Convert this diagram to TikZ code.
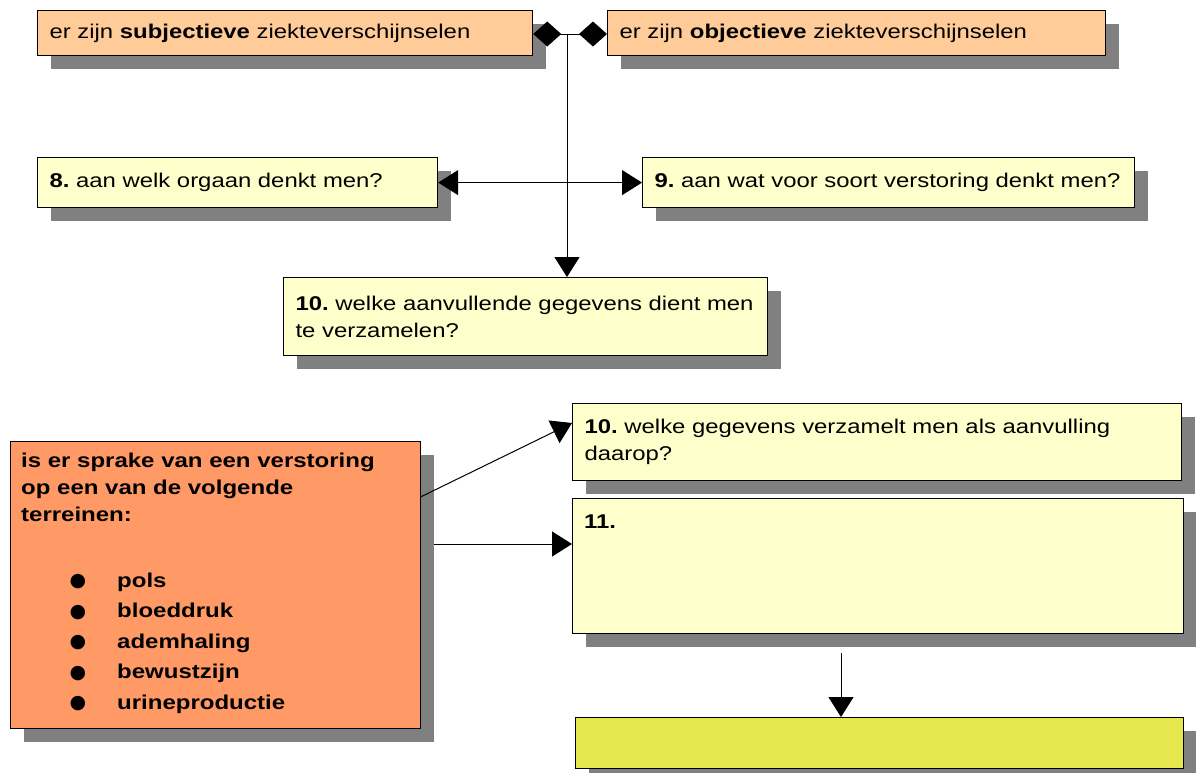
\documentclass[tikz,border=0pt]{standalone}
\usepackage{fontspec}
\setmainfont{Liberation Sans}[FakeStretch=1.2]
\newfontfamily\djv{DejaVu Sans}
\usetikzlibrary{shadows,arrows.meta}
\definecolor{peach}{HTML}{FFCC99}
\definecolor{lyellow}{HTML}{FFFFCC}
\definecolor{orng}{HTML}{FF9966}
\definecolor{ybox}{HTML}{E6E64D}
\definecolor{shad}{HTML}{808080}
\frenchspacing
\tikzset{
  box/.style={draw=black, line width=1.2pt, rectangle, anchor=north west,
    inner xsep=12pt, inner ysep=0pt, align=left,
    font=\fontsize{19.9}{27}\selectfont,
    drop shadow={shadow xshift=13pt, shadow yshift=-13pt, fill=shad, opacity=1}},
  conn/.style={line width=1pt, draw=black},
  tri/.style={-{Triangle[length=20pt,width=25pt]}},
}
\begin{document}
\begin{tikzpicture}[x=1pt,y=-1pt]
\useasboundingbox (0,0) rectangle (1196,772);
% top boxes
\node[box, fill=peach, minimum width=495pt, minimum height=45pt, text width=471pt] (b1) at (37,10)
  {\mbox{er zijn \textbf{subjectieve} ziekteverschijnselen}};
\node[box, fill=peach, minimum width=498pt, minimum height=45pt, text width=474pt] (b2) at (607,10)
  {\mbox{er zijn \textbf{objectieve} ziekteverschijnselen}};
\node[box, fill=lyellow, minimum width=400pt, minimum height=50pt, text width=376pt] (b8) at (37,157)
  {\mbox{\textbf{8.} aan welk orgaan denkt men?}};
\node[box, fill=lyellow, minimum width=492pt, minimum height=50pt, text width=468pt] (b9) at (642,157)
  {\mbox{\textbf{9.} aan wat voor soort verstoring denkt men?}};
\node[box, fill=lyellow, minimum width=484pt, minimum height=78pt, text width=460pt] (b10a) at (283,277)
  {\mbox{\textbf{10.} welke aanvullende gegevens dient men}\\te verzamelen?};
% lower boxes
\node[box, fill=orng, minimum width=410pt, minimum height=287pt] (o) at (10,441) {};
\node[anchor=north west, inner sep=0pt, align=left, font=\fontsize{20}{27}\selectfont\bfseries] (oh) at (21,453)
  {is er sprake van een verstoring\\op een van de volgende\\terreinen:};
\foreach \t [count=\i from 0] in {pols,bloeddruk,ademhaling,bewustzijn,urineproductie}{
  \node[inner sep=0pt, font=\djv\fontsize{19}{20}\selectfont] (bul\i) at (78,{582+30.5*\i}) {●};
  \node[anchor=west, inner sep=0pt, font=\fontsize{20}{27}\selectfont\bfseries] (it\i) at (117,{582+30.5*\i}) {\strut\t};
}
\node[box, fill=lyellow, minimum width=609pt, minimum height=77pt, text width=585pt] (b10b) at (572,403)
  {\mbox{\textbf{10.} welke gegevens verzamelt men als aanvulling}\\daarop?};
\node[box, fill=lyellow, minimum width=611pt, minimum height=135pt] (b11) at (572,498) {};
\node[anchor=west, inner sep=0pt, font=\fontsize{19.9}{27}\selectfont\bfseries] (t11) at (584,522) {11.};
\node[box, fill=ybox, minimum width=608pt, minimum height=51pt] (yb) at (575,717) {};
% connectors
\coordinate (j) at (567,34);
\draw[conn, {Diamond[length=28pt,width=25pt]}-{Diamond[length=28pt,width=25pt]}] (b1.east |- j) -- (b2.west |- j);
\draw[conn, tri] (j) -- (j |- b10a.north);
\draw[conn, {Triangle[length=20pt,width=25pt]}-{Triangle[length=20pt,width=25pt]}] (b8.east) -- (b9.west);
\coordinate (d1) at (420.5,497);
\coordinate (d2) at (572,423);
\draw[conn, tri] (d1) -- (d2);
\coordinate (h1) at (434,544);
\draw[conn, tri] (h1) -- (h1 -| b11.west);
\coordinate (v1) at (841,653);
\draw[conn, tri] (v1) -- (v1 |- yb.north);
\end{tikzpicture}
\end{document}
